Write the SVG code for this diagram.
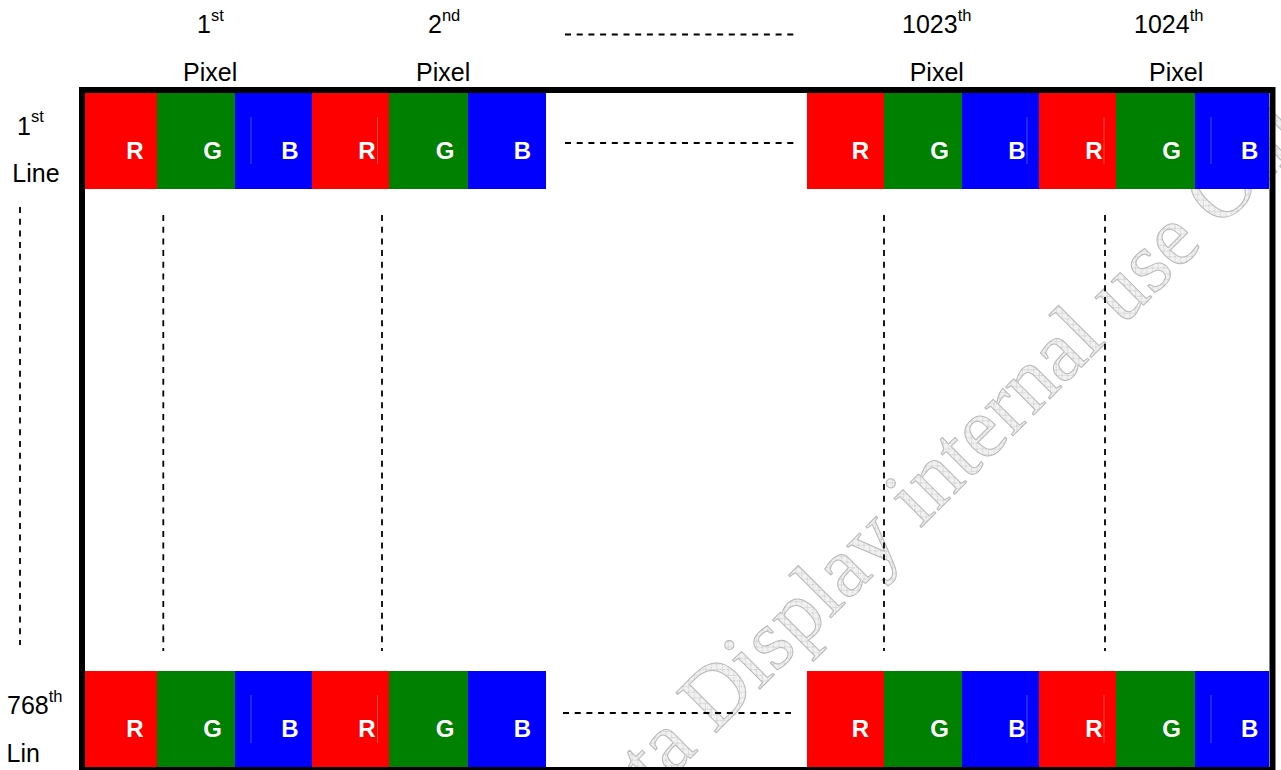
<svg xmlns="http://www.w3.org/2000/svg" width="1281" height="770" viewBox="0 0 1281 770">
<defs>
<pattern id="hatch" width="8" height="8" patternUnits="userSpaceOnUse">
<rect width="8" height="8" fill="#f1f1f1"/>
<path d="M0,0L8,8M8,0L0,8" stroke="#cfcfcf" stroke-width="0.8"/>
</pattern>
</defs>
<style>
.lbl{font-family:"Liberation Sans",Arial,sans-serif;font-size:25px;fill:#000}
.sup{font-size:16.5px}
.ch{font-family:"Liberation Sans",Arial,sans-serif;font-size:24px;font-weight:bold;fill:#fff;text-anchor:middle}
.r{fill:#ff0000}.g{fill:#008000}.b{fill:#0000ff}
.dash{stroke:#000;stroke-width:1.8;stroke-dasharray:6 5.7;fill:none}
.faint{stroke:#fff;stroke-opacity:0.3;stroke-width:1}
.wm{font-family:"Liberation Serif","Times New Roman",serif;font-size:86.6px;fill:url(#hatch);stroke:#b8b8b8;stroke-width:1}
</style>
<rect width="1281" height="770" fill="#fff"/>
<g id="watermark">
<text class="wm" transform="translate(654.7,794.1) rotate(-45)" x="0" y="0">ta Display internal use Only</text>
</g>
<g id="frame">
<rect x="82" y="90" width="1190.5" height="680" fill="none" stroke="#000" stroke-width="6"/>
</g>
<g id="row-1">
<rect class="r" x="85" y="93" width="72" height="96"/>
<rect class="g" x="157" y="93" width="78" height="96"/>
<rect class="b" x="235" y="93" width="77" height="96"/>
<rect class="r" x="312" y="93" width="77" height="96"/>
<rect class="g" x="389" y="93" width="79" height="96"/>
<rect class="b" x="468" y="93" width="78" height="96"/>
<rect class="r" x="807" y="93" width="77" height="96"/>
<rect class="g" x="884" y="93" width="78" height="96"/>
<rect class="b" x="962" y="93" width="77" height="96"/>
<rect class="r" x="1039" y="93" width="77" height="96"/>
<rect class="g" x="1116" y="93" width="79" height="96"/>
<rect class="b" x="1195" y="93" width="74" height="96"/>
<path class="faint" d="M251,117V164M377.5,117V164M1027,117V164M1104,117V164M1211,117V164"/>
<text class="ch" x="135" y="159">R</text>
<text class="ch" x="212.5" y="159">G</text>
<text class="ch" x="290" y="159">B</text>
<text class="ch" x="367" y="159">R</text>
<text class="ch" x="445" y="159">G</text>
<text class="ch" x="522.5" y="159">B</text>
<text class="ch" x="860.5" y="159">R</text>
<text class="ch" x="939.5" y="159">G</text>
<text class="ch" x="1017" y="159">B</text>
<text class="ch" x="1094" y="159">R</text>
<text class="ch" x="1171.7" y="159">G</text>
<text class="ch" x="1249.7" y="159">B</text>
</g>
<g id="row-768">
<rect class="r" x="85" y="671" width="72" height="96"/>
<rect class="g" x="157" y="671" width="78" height="96"/>
<rect class="b" x="235" y="671" width="77" height="96"/>
<rect class="r" x="312" y="671" width="77" height="96"/>
<rect class="g" x="389" y="671" width="79" height="96"/>
<rect class="b" x="468" y="671" width="78" height="96"/>
<rect class="r" x="807" y="671" width="77" height="96"/>
<rect class="g" x="884" y="671" width="78" height="96"/>
<rect class="b" x="962" y="671" width="77" height="96"/>
<rect class="r" x="1039" y="671" width="77" height="96"/>
<rect class="g" x="1116" y="671" width="79" height="96"/>
<rect class="b" x="1195" y="671" width="74" height="96"/>
<path class="faint" d="M251,695V743M377.5,695V743M1027,695V743M1104,695V743M1211,695V743"/>
<text class="ch" x="135" y="737">R</text>
<text class="ch" x="212.5" y="737">G</text>
<text class="ch" x="290" y="737">B</text>
<text class="ch" x="367" y="737">R</text>
<text class="ch" x="445" y="737">G</text>
<text class="ch" x="522.5" y="737">B</text>
<text class="ch" x="860.5" y="737">R</text>
<text class="ch" x="939.5" y="737">G</text>
<text class="ch" x="1017" y="737">B</text>
<text class="ch" x="1094" y="737">R</text>
<text class="ch" x="1171.7" y="737">G</text>
<text class="ch" x="1249.7" y="737">B</text>
</g>
<g id="pixel-labels">
<g id="label-px1"><text class="lbl" x="197" y="33.3">1<tspan class="sup" dy="-12.8">st</tspan></text><text class="lbl" x="183" y="81">Pixel</text></g>
<g id="label-px2"><text class="lbl" x="428" y="33.3">2<tspan class="sup" dy="-12.8">nd</tspan></text><text class="lbl" x="416" y="81">Pixel</text></g>
<g id="label-px1023"><text class="lbl" x="902" y="33.3">1023<tspan class="sup" dy="-12.8">th</tspan></text><text class="lbl" x="909.7" y="81">Pixel</text></g>
<g id="label-px1024"><text class="lbl" x="1134" y="33.3">1024<tspan class="sup" dy="-12.8">th</tspan></text><text class="lbl" x="1149" y="81">Pixel</text></g>
</g>
<g id="line-labels">
<g id="label-line1"><text class="lbl" x="17" y="135">1<tspan class="sup" dy="-13">st</tspan></text><text class="lbl" x="12.3" y="182.3">Line</text></g>
<g id="label-line768"><text class="lbl" x="7" y="714">768<tspan class="sup" dy="-12.5">th</tspan></text><text class="lbl" x="6.6" y="761.7">Lin</text></g>
</g>
<g id="connectors">
<path class="dash" d="M565,34.5H794"/>
<path class="dash" d="M565,143H794"/>
<path class="dash" d="M563,713H791"/>
<path class="dash" d="M20,207V645"/>
<path class="dash" d="M163.3,215V651"/>
<path class="dash" d="M382,215V651"/>
<path class="dash" d="M884,215V651"/>
<path class="dash" d="M1105,215V651"/>
</g>
</svg>
